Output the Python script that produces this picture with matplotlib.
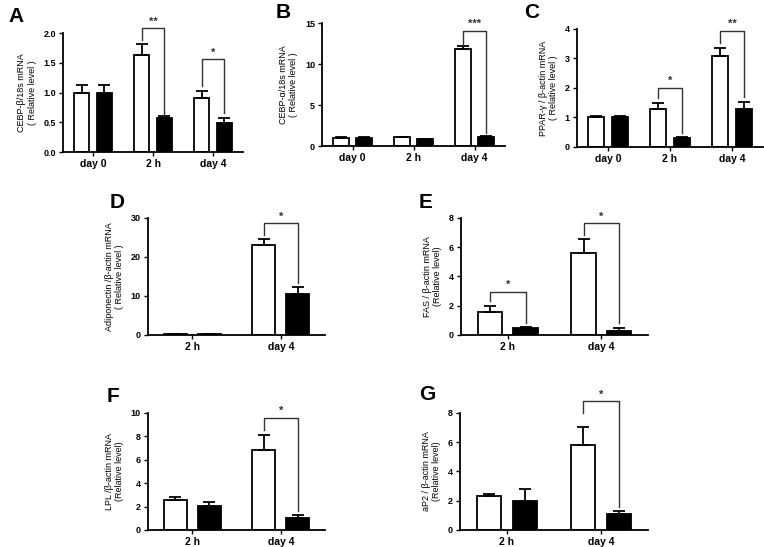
import numpy as np
import matplotlib
matplotlib.use("Agg")
import matplotlib.pyplot as plt

plt.rcParams['font.family'] = ['Liberation Sans', 'DejaVu Sans']

cats3 = ["day 0", "2 h", "day 4"]
cats2 = ["2 h", "day 4"]

# panel A: CEBP-beta
a_ctrl = [1.0, 1.63, 0.91]
a_ctrl_err = [0.12, 0.18, 0.11]
a_trt = [1.0, 0.57, 0.49]
a_trt_err = [0.12, 0.03, 0.09]

# panel B: CEBP-alpha
b_ctrl = [1.0, 1.05, 11.8]
b_ctrl_err = [0.08, 0.07, 0.4]
b_trt = [1.0, 0.85, 1.1]
b_trt_err = [0.08, 0.07, 0.15]

# panel C: PPAR-gamma
c_ctrl = [1.0, 1.28, 3.1]
c_ctrl_err = [0.04, 0.22, 0.24]
c_trt = [1.0, 0.32, 1.28]
c_trt_err = [0.04, 0.02, 0.23]

# panel D: adiponectin
d_ctrl = [0.3, 23.2]
d_ctrl_err = [0.05, 1.3]
d_trt = [0.3, 10.6]
d_trt_err = [0.05, 1.6]

# panel E: FAS
e_ctrl = [1.6, 5.6]
e_ctrl_err = [0.35, 0.95]
e_trt = [0.48, 0.3]
e_trt_err = [0.06, 0.15]

# panel F: LPL
f_ctrl = [2.6, 6.8]
f_ctrl_err = [0.2, 1.3]
f_trt = [2.05, 1.05]
f_trt_err = [0.3, 0.2]

# panel G: aP2
g_ctrl = [2.3, 5.8]
g_ctrl_err = [0.15, 1.25]
g_trt = [2.0, 1.1]
g_trt_err = [0.78, 0.18]

fig = plt.figure(figsize=(7.64, 5.47), dpi=100)


def panel(rect, cats, ctrl, ctrl_err, trt, trt_err, ymax, step, ylabel, letter,
          letter_xy, sig, fmt="%d"):
    ax = fig.add_axes(rect)
    x = np.arange(len(cats))
    w = 0.26
    off = 0.19
    ax.bar(x - off, ctrl, w, color="white", edgecolor="black", linewidth=1.3, zorder=2)
    ax.bar(x + off, trt, w, color="black", edgecolor="black", linewidth=1.3, zorder=2)
    ax.errorbar(x - off, ctrl, yerr=[np.zeros(len(x)), ctrl_err], fmt="none",
                ecolor="black", elinewidth=1.3, capsize=4.5, capthick=1.3, zorder=3)
    ax.errorbar(x + off, trt, yerr=[np.zeros(len(x)), trt_err], fmt="none",
                ecolor="black", elinewidth=1.3, capsize=4.5, capthick=1.3, zorder=3)
    ax.set_xlim(-0.5, len(cats) - 0.5)
    ax.set_ylim(0, ymax)
    ticks = np.arange(0, ymax + step / 2, step)
    ax.set_yticks(ticks)
    ax.set_yticklabels([fmt % t for t in ticks], fontsize=6.5, fontweight="bold")
    ax.set_xticks(x)
    ax.set_xticklabels(cats, fontsize=7.5, fontweight="bold")
    ax.tick_params(length=3, width=1, pad=2)
    for s in ["top", "right"]:
        ax.spines[s].set_visible(False)
    for s in ["left", "bottom"]:
        ax.spines[s].set_linewidth(1.3)
    ax.set_ylabel(ylabel, fontsize=6.5, linespacing=1.2, labelpad=5)
    fig.text(letter_xy[0] / 764, 1 - letter_xy[1] / 547, letter, fontsize=15,
             fontweight="bold", ha="left", va="center")
    # significance brackets: (group, top, left_end, right_end, stars)
    for i, top, l_end, r_end, stars in sig:
        xl, xr = i - off, i + off
        ax.plot([xl, xl, xr, xr], [l_end, top, top, r_end], color="#333333",
                linewidth=1.0, clip_on=False, zorder=4)
        ax.text(i, top + ymax * 0.015, stars, ha="center", va="bottom",
                fontsize=8, fontweight="bold", color="#333333", clip_on=False)
    return ax


panel([0.0825, 0.7221, 0.2356, 0.2175], cats3, a_ctrl, a_ctrl_err, a_trt, a_trt_err,
      2.0, 0.5, "CEBP-\u03b2/18s mRNA\n( Relative level )", "A", (8, 16),
      [(1, 2.08, 1.89, 0.63, "**"), (2, 1.56, 1.11, 0.65, "*")], fmt="%.1f")

panel([0.4215, 0.7330, 0.2395, 0.2249], cats3, b_ctrl, b_ctrl_err, b_trt, b_trt_err,
      15, 5, "CEBP-\u03b1/18s mRNA\n( Relative level )", "B", (276, 12),
      [(2, 14.06, 12.5, 1.6, "***")])

panel([0.7552, 0.7313, 0.2435, 0.2157], cats3, c_ctrl, c_ctrl_err, c_trt, c_trt_err,
      4, 1, "PPAR-\u03b3 / \u03b2-actin mRNA\n( Relative level )", "C", (524, 12),
      [(1, 2.01, 1.65, 0.46, "*"), (2, 3.93, 3.51, 1.7, "**")])

panel([0.1937, 0.3876, 0.2317, 0.2139], cats2, d_ctrl, d_ctrl_err, d_trt, d_trt_err,
      30, 10, "Adiponectin /\u03b2-actin mRNA\n( Relative level )", "D", (110, 203),
      [(1, 28.6, 25.6, 13.4, "*")])

panel([0.6034, 0.3876, 0.2448, 0.2139], cats2, e_ctrl, e_ctrl_err, e_trt, e_trt_err,
      8, 2, "FAS / \u03b2-actin mRNA\n(Relative level)", "E", (419, 203),
      [(0, 2.97, 2.35, 0.8, "*"), (1, 7.64, 6.85, 0.8, "*")])

panel([0.1937, 0.0311, 0.2317, 0.2139], cats2, f_ctrl, f_ctrl_err, f_trt, f_trt_err,
      10, 2, "LPL /\u03b2-actin mRNA\n(Relative level)", "F", (107, 397),
      [(1, 9.6, 8.55, 1.65, "*")])

panel([0.6020, 0.0311, 0.2461, 0.2139], cats2, g_ctrl, g_ctrl_err, g_trt, g_trt_err,
      8, 2, "aP2 / \u03b2-actin mRNA\n(Relative level)", "G", (419, 394),
      [(1, 8.8, 7.98, 1.6, "*")])

fig.savefig("out.png", dpi=100)
